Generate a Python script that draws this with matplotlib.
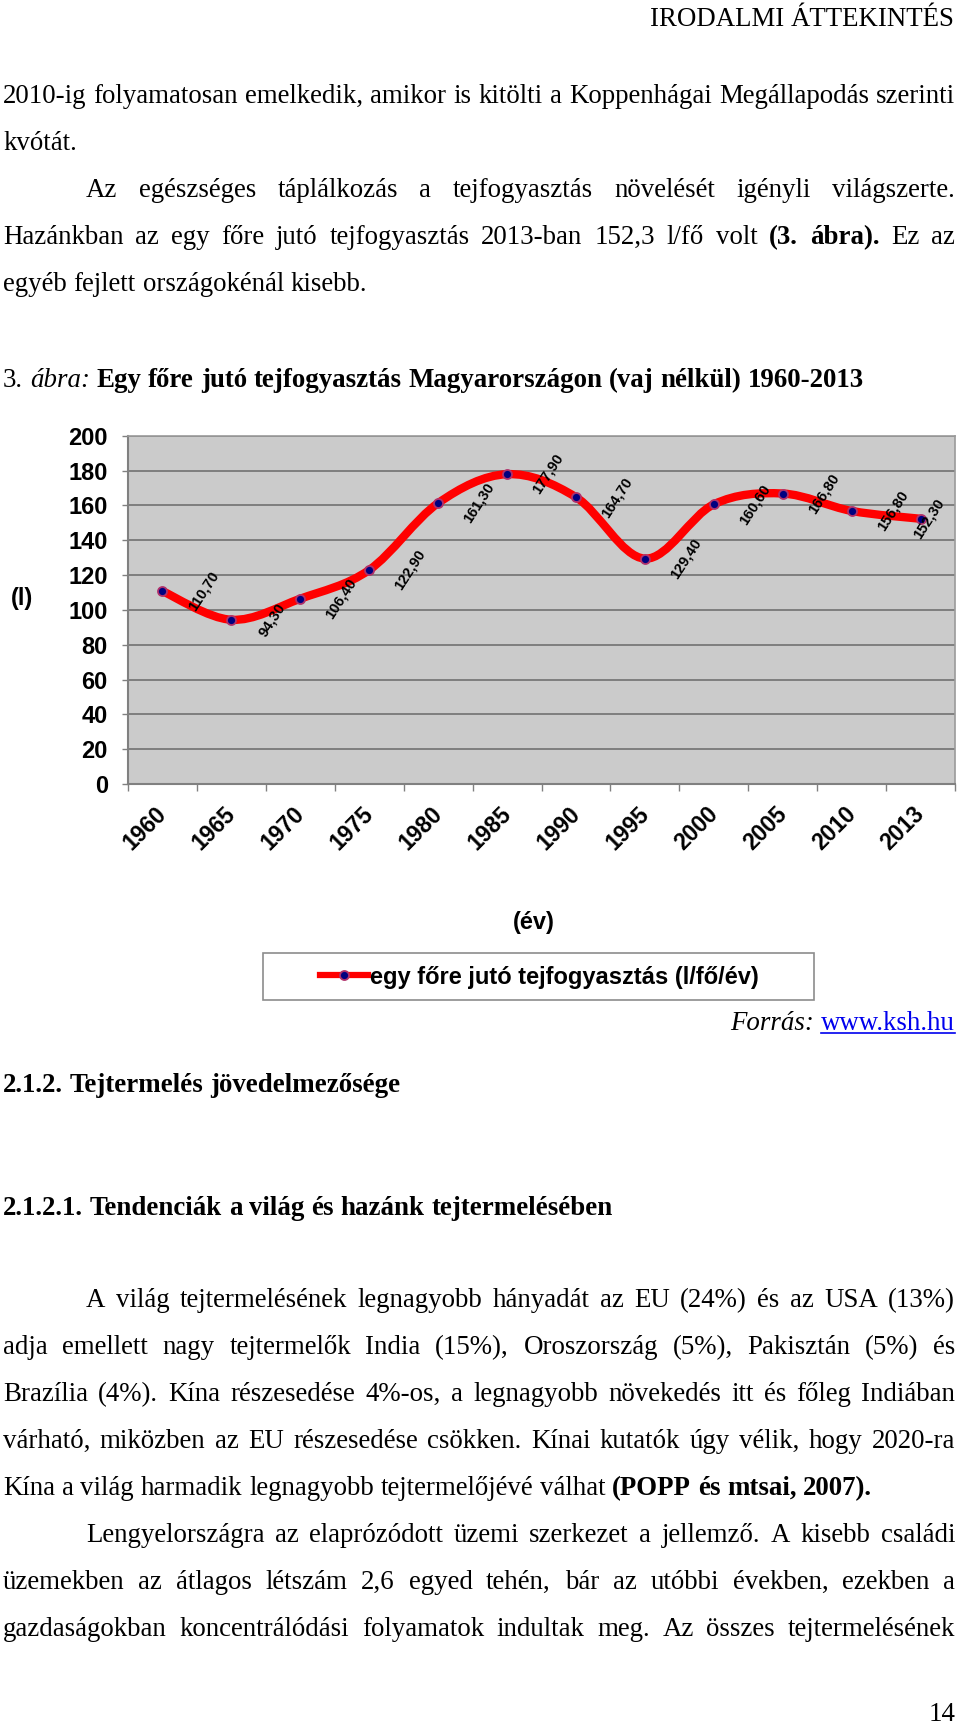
import matplotlib
matplotlib.use('Agg')
import matplotlib.pyplot as plt
import numpy as np
from matplotlib.path import Path
from matplotlib.patches import PathPatch, Rectangle
from matplotlib.lines import Line2D
from matplotlib.transforms import ScaledTranslation

# Adatok (3. abra)
evek = ['1960', '1965', '1970', '1975', '1980', '1985',
        '1990', '1995', '2000', '2005', '2010', '2013']
fogyasztas = [110.7, 94.3, 106.4, 122.9, 161.3, 177.9,
              164.7, 129.4, 160.6, 166.8, 156.8, 152.3]
y_osztas = [0, 20, 40, 60, 80, 100, 120, 140, 160, 180, 200]
sorozat_nev = 'egy főre jutó tejfogyasztás (l/fő/év)'

# Oldal szovege
fejlec = 'IRODALMI ÁTTEKINTÉS'
bekezdes1 = [
    ([('2010-ig folyamatosan emelkedik, amikor is kitölti a Koppenhágai Megállapodás szerinti', 'n')], 0, True),
    ([('kvótát.', 'n')], 0, False),
    ([('Az egészséges táplálkozás a tejfogyasztás növelését igényli világszerte.', 'n')], 1, True),
    ([('Hazánkban az egy főre jutó tejfogyasztás 2013-ban 152,3 l/fő volt', 'n'),
      ('(3. ábra).', 'b'), ('Ez az', 'n')], 0, True),
    ([('egyéb fejlett országokénál kisebb.', 'n')], 0, False),
]
abra_cim = [('3.', 'n'), ('ábra:', 'i'),
            ('Egy főre jutó tejfogyasztás Magyarországon (vaj nélkül) 1960-2013', 'b')]
cim1 = '2.1.2. Tejtermelés jövedelmezősége'
cim2 = '2.1.2.1. Tendenciák a világ és hazánk tejtermelésében'
bekezdes2 = [
    ([('A világ tejtermelésének legnagyobb hányadát az EU (24%) és az USA (13%)', 'n')], 1, True),
    ([('adja emellett nagy tejtermelők India (15%), Oroszország (5%), Pakisztán (5%) és', 'n')], 0, True),
    ([('Brazília (4%). Kína részesedése 4%-os, a legnagyobb növekedés itt és főleg Indiában', 'n')], 0, True),
    ([('várható, miközben az EU részesedése csökken. Kínai kutatók úgy vélik, hogy 2020-ra', 'n')], 0, True),
    ([('Kína a világ harmadik legnagyobb tejtermelőjévé válhat', 'n'),
      ('(POPP és mtsai, 2007).', 'b')], 0, False),
    ([('Lengyelországra az elaprózódott üzemi szerkezet a jellemző. A kisebb családi', 'n')], 1, True),
    ([('üzemekben az átlagos létszám 2,6 egyed tehén, bár az utóbbi években, ezekben a', 'n')], 0, True),
    ([('gazdaságokban koncentrálódási folyamatok indultak meg. Az összes tejtermelésének', 'n')], 0, True),
]
oldalszam = '14'

W, H = 960, 1725
SERIF = 'Liberation Serif'
SANS = 'Liberation Sans'
BETU = 19.4        # szovegtorzs, pt
CBETU = 17         # diagram betumeret
BAL, JOBB, BEHUZAS = 3, 955, 83

STILUS = {'n': dict(),
          'b': dict(fontweight='bold'),
          'i': dict(fontstyle='italic'),
          'l': dict(color='#0000EE')}

fig = plt.figure(figsize=(W / 100, H / 100), dpi=100)
fig.patch.set_facecolor('white')
renderer = fig.canvas.get_renderer()


def fx(x):
    return x / W


def fy(y):
    return 1 - y / H


def szelesseg(s, st='n', size=BETU):
    t = fig.text(0, 0, s, fontsize=size, family=SERIF, **STILUS[st])
    w = t.get_window_extent(renderer).width
    t.remove()
    return w


def sor(reszek, alap, x0=BAL, x1=JOBB, sorkizart=False, igazitas='left', size=BETU):
    szavak = []
    for s, st in reszek:
        for w in s.split():
            szavak.append((w, st))
    sz = [szelesseg(w, st, size) for w, st in szavak]
    szokoz = szelesseg('a a', 'n', size) - szelesseg('aa', 'n', size)
    if sorkizart and len(szavak) > 1:
        hezag = (x1 - x0 - sum(sz)) / (len(szavak) - 1)
    else:
        hezag = szokoz
    teljes = sum(sz) + hezag * (len(szavak) - 1)
    x = x1 - teljes if igazitas == 'right' else x0
    objektumok = []
    for (w, st), wd in zip(szavak, sz):
        t = fig.text(fx(x), fy(alap), w, fontsize=size, family=SERIF,
                     ha='left', va='baseline', **STILUS[st])
        objektumok.append((t, x, wd))
        x += wd + hezag
    return objektumok


# Szoveg a diagram felett
sor([(fejlec, 'n')], 26, igazitas='right')
alap = 103
for reszek, beh, kizart in bekezdes1:
    sor(reszek, alap, x0=BAL + BEHUZAS * beh, sorkizart=kizart)
    alap += 47
sor(abra_cim, 387)

# Diagram
ax = fig.add_axes([fx(128), fy(784), (955 - 128) / W, (784 - 435.7) / H])
ax.set_facecolor('#cbcbcb')
n = len(fogyasztas)
xk = np.arange(n) + 0.5
pts = np.column_stack([xk, fogyasztas])

# simitott vonal (Bezier, Excel-szeru)
verts = [pts[0]]
codes = [Path.MOVETO]
for i in range(n - 1):
    p0 = pts[i - 1] if i > 0 else pts[i]
    p3 = pts[i + 2] if i + 2 < n else pts[i + 1]
    verts += [pts[i] + (pts[i + 1] - p0) / 6,
              pts[i + 1] - (p3 - pts[i]) / 6,
              pts[i + 1]]
    codes += [Path.CURVE4] * 3
ax.add_patch(PathPatch(Path(verts, codes), fill=False, edgecolor='#ff0000',
                       lw=6, capstyle='round', joinstyle='round', zorder=3))
ax.plot(xk, fogyasztas, 'o', ms=6.5, mfc='#000080', mec='#b0306a', mew=1.3, zorder=4)

for i, v in enumerate(fogyasztas):
    dx = 41 if i < n - 1 else 8
    ax.annotate(f'{v:.2f}'.replace('.', ','), (xk[i], v), xytext=(dx, 0),
                textcoords='offset pixels', rotation=57, ha='center', va='center',
                fontsize=10.5, fontweight='bold', family=SANS, zorder=5)

ax.set_xlim(0, n)
ax.set_ylim(0, 200)
ax.set_yticks(y_osztas)
ax.set_yticklabels([str(v) for v in y_osztas], fontsize=CBETU, fontweight='bold', family=SANS)
ax.yaxis.grid(True, color='#6a6a6a', lw=1.1)
ax.set_axisbelow(True)
ax.tick_params(axis='y', direction='out', length=4.5, width=1, color='#808080', pad=10)

ax.set_xticks(np.arange(n + 1))
ax.set_xticklabels([])
ax.set_xticks(xk, minor=True)
ax.set_xticklabels(evek, minor=True, rotation=45, ha='right', va='top',
                   rotation_mode='anchor', fontsize=16.5, fontweight='bold', family=SANS)
ax.tick_params(axis='x', which='major', direction='out', length=5, width=1, color='#808080')
ax.tick_params(axis='x', which='minor', length=0, pad=13)
for lbl in ax.get_xticklabels(minor=True):
    lbl.set_transform(lbl.get_transform() + ScaledTranslation(-0.075, 0, fig.dpi_scale_trans))

for s in ['left', 'bottom']:
    ax.spines[s].set_color('#808080')
    ax.spines[s].set_linewidth(1.5)
for s in ['top', 'right']:
    ax.spines[s].set_color('#9a9a9a')
    ax.spines[s].set_linewidth(1.2)

fig.text(fx(22), fy(598), '(l)', fontsize=CBETU, family=SANS, fontweight='bold',
         ha='center', va='center')
fig.text(fx(534), fy(922), '(év)', fontsize=CBETU, family=SANS, fontweight='bold',
         ha='center', va='center')

# Jelmagyarazat
jel = Line2D([], [], color='#ff0000', lw=4.5, marker='o', ms=6.5, mfc='#000080',
             mec='#b0306a', mew=1.3)
fig.legend([jel], [sorozat_nev], loc='center left', bbox_to_anchor=(fx(320), fy(977)),
           frameon=False, borderpad=0, borderaxespad=0, handlelength=2.05,
           handletextpad=0.05, numpoints=1,
           prop=dict(family=SANS, weight='bold', size=CBETU))
fig.add_artist(Rectangle((fx(263), fy(1000)), (814 - 263) / W, (1000 - 953) / H,
                         transform=fig.transFigure, fill=False, edgecolor='#8c8c8c', lw=1.2))

# Forras
forras = sor([('Forrás:', 'i'), ('www.ksh.hu', 'l')], 1030, igazitas='right')
t, x, wd = forras[-1]
fig.add_artist(Line2D([fx(x), fx(x + wd)], [fy(1033), fy(1033)], color='#0000EE', lw=1.2,
                      transform=fig.transFigure))

# Szoveg a diagram alatt
sor([(cim1, 'b')], 1092)
sor([(cim2, 'b')], 1215)
alap = 1307
for reszek, beh, kizart in bekezdes2:
    sor(reszek, alap, x0=BAL + BEHUZAS * beh, sorkizart=kizart)
    alap += 47
sor([(oldalszam, 'n')], 1721, igazitas='right')

fig.savefig('out.png', dpi=100)
